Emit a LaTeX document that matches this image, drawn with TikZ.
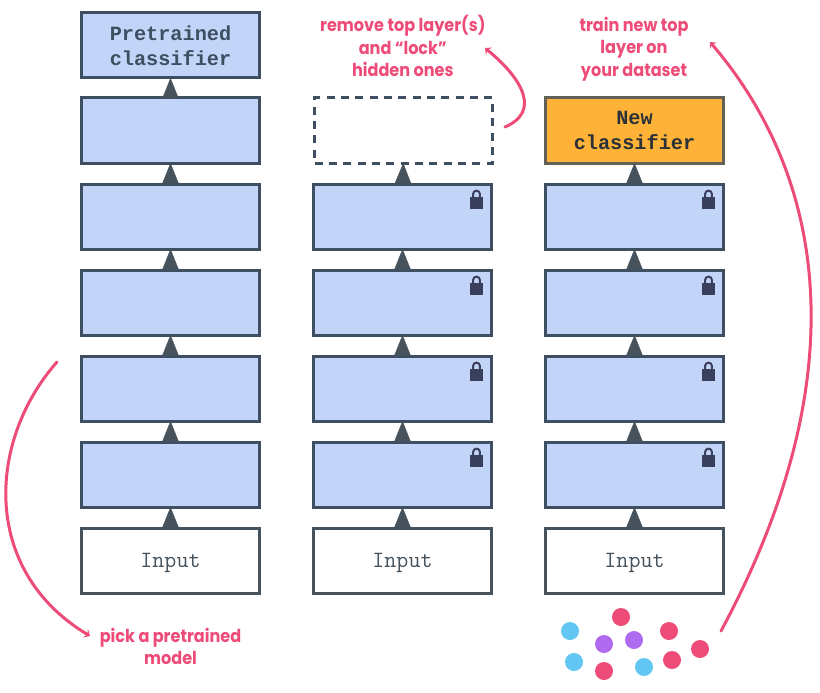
\documentclass[tikz,border=0pt]{standalone}
\usepackage{fontspec}
\usepackage{tikz}
\usetikzlibrary{arrows.meta,positioning}
\newfontfamily\notefont[FakeStretch=.9]{Poppins}
\newfontfamily\headfont{Liberation Mono}
\definecolor{tlblue}{HTML}{C2D4F8}
\definecolor{tlline}{HTML}{3D4F60}
\definecolor{tlgrey}{HTML}{46525C}
\definecolor{tlorange}{HTML}{FFB238}
\definecolor{tlpink}{HTML}{EE4C78}
\definecolor{tlsky}{HTML}{62C6F2}
\definecolor{tlviolet}{HTML}{AE6AF0}
\definecolor{tllock}{HTML}{3A3F5C}
\tikzset{
  layerbox/.style={draw=tlline,line width=.075cm,fill=tlblue,minimum width=4.45cm,minimum height=1.625cm,inner sep=0pt,outer sep=0pt,align=center,font=\headfont\bfseries\fontsize{14.4}{17.6}\selectfont,text=tlline},
  inputbox/.style={layerbox,fill=white,draw=tlgrey,text=tlgrey,text depth=0pt,font=\ttfamily\fontsize{16.6}{17.6}\selectfont},
  newbox/.style={layerbox,fill=tlorange,draw=tlgrey!85!tlorange,text=tlgrey!60!black},
  gonebox/.style={layerbox,fill=none,dash pattern=on .2cm off .158cm},
  uparrow/.style={tlgrey,line width=.2pt,-{Triangle[width=.4cm,length=.5cm]}},
  notetext/.style={text=tlpink,align=center,inner sep=0pt,font=\notefont\bfseries\fontsize{12.7}{16}\selectfont},
  noteline/.style={tlpink,line width=.075cm,line cap=round,-{Stealth[length=.13cm,width=.24cm,inset=.05cm]}},
  datadot/.style={circle,fill=#1,minimum size=.45cm,inner sep=0pt},
  lockicon/.pic={
    \fill[tllock] (-.54,-.33) rectangle (-.21,-.63);
    \draw[tllock,line width=.05cm] (-.46,-.33) -- (-.46,-.25) arc (180:0:.085) -- (-.29,-.33);
  }
}
\begin{document}
\begin{tikzpicture}
  \useasboundingbox (0,0) rectangle (20.5,-17.325);
  % three stacks, bottom to top
  \foreach \col/\x in {a/4.2625,b/10.0625,c/15.8625}{
    \node[inputbox] (\col0) at (\x,-14.0125) {Input};
    \foreach \n [remember=\n as \m (initially 0)] in {1,...,4}{
      \node[layerbox,above=.525cm of \col\m] (\col\n) {};
      \draw[uparrow] (\col\m) -- (\col\n);
    }
  }
  \node[layerbox,above=.525cm of a4] (a5) {};
  \node[layerbox,above=.5cm of a5] (a6) {Pretrained\\classifier};
  \node[gonebox,above=.525cm of b4,xshift=.03cm] (b5) {};
  \node[newbox,above=.525cm of c4] (c5) {New\\classifier};
  \draw[uparrow] (a4) -- (a5);
  \draw[uparrow] (a5) -- (a6);
  \draw[uparrow] (b4) -- (b5);
  \draw[uparrow] (c4) -- (c5);
  \foreach \col in {b,c}{
    \foreach \n in {1,...,4}{
      \pic at (\col\n.north east) {lockicon};
    }
  }
  % notes
  \node[notetext] (picknote) at (4.2625,-16.16) {pick a pretrained\\model};
  \node[notetext] (removenote) at (10.07,-1.16) {remove top layer(s)\\and “lock”\\hidden ones};
  \node[notetext] (trainnote) at (15.85,-1.225) {train new top\\layer on\\your dataset};
  \coordinate (pickfrom) at (1.425,-9.05);
  \coordinate (pickto) at (2.25,-15.9);
  \coordinate (removefrom) at (12.625,-3.175);
  \coordinate (removeto) at (12.125,-1.2);
  \coordinate (trainfrom) at (18.025,-15.775);
  \coordinate (trainto) at (17.75,-1.05);
  \draw[noteline] (pickfrom) .. controls (-.3,-11) and (-.5,-14.25) .. (pickto);
  \draw[noteline] (removefrom) .. controls (13.5,-2.8) and (13.1,-2) .. (removeto);
  \draw[noteline] (trainfrom) .. controls (21.4,-9.5) and (20.7,-4.5) .. (trainto);
  % dataset
  \foreach \name/\px/\py/\tint in {d1/15.525/15.425/tlpink,d2/14.25/15.775/tlsky,d3/15.1/16.1/tlviolet,d4/15.85/16/tlviolet,d5/16.725/15.775/tlpink,d6/17.5/16.225/tlpink,d7/16.8/16.5/tlpink,d8/16.1/16.675/tlsky,d9/15.1/16.775/tlpink,d10/14.35/16.55/tlsky}{
    \node[datadot=\tint] (\name) at (\px,-\py) {};
  }
\end{tikzpicture}
\end{document}
